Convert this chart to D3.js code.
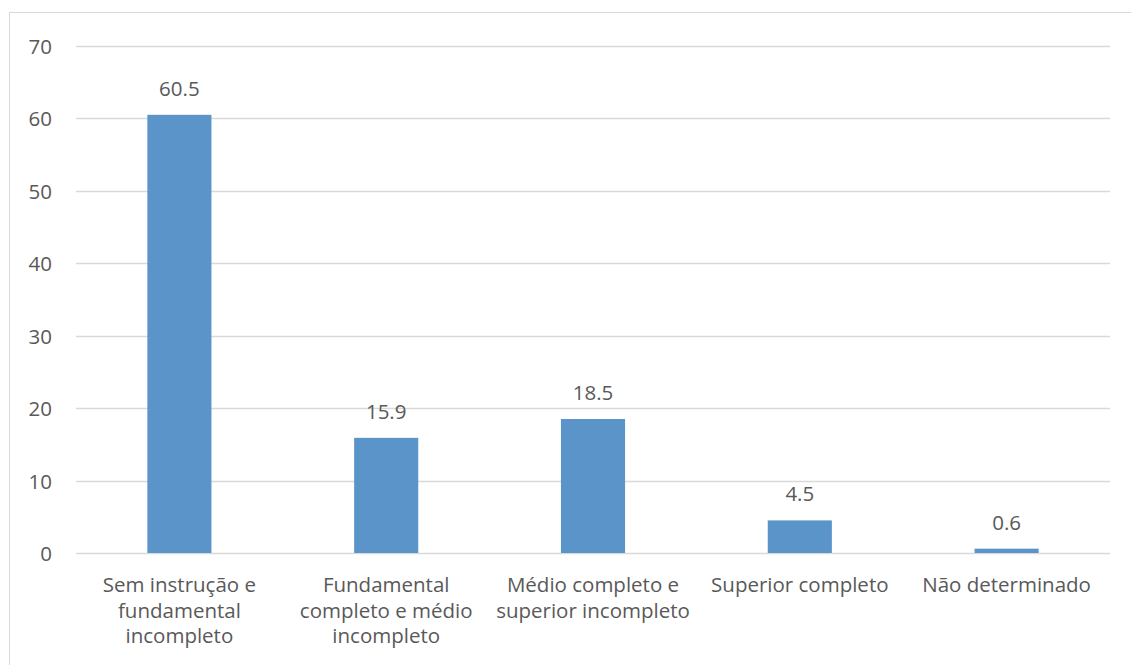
<!DOCTYPE html>
<html>
<head>
<meta charset="utf-8">
<script src="https://cdn.jsdelivr.net/npm/d3@7"></script>
<style>
  html, body { margin: 0; padding: 0; background: #fff; }
  svg text { font-family: "Open Sans", "Liberation Sans", sans-serif; fill: #595959; }
</style>
</head>
<body>
<svg id="chart" width="1131" height="665"></svg>
<script>
// Escolaridade (%)
const categories = [
  ["Sem instrução e", "fundamental", "incompleto"],
  ["Fundamental", "completo e médio", "incompleto"],
  ["Médio completo e", "superior incompleto"],
  ["Superior completo"],
  ["Não determinado"]
];
const values = [60.5, 15.9, 18.5, 4.5, 0.6];
const yTicks = [0, 10, 20, 30, 40, 50, 60, 70];

const FS = 20.5;
const svg = d3.select("#chart");
const W = 1131, H = 665;
const plot = { left: 76, right: 1110, top: 46, bottom: 553 };

// outer chart frame
svg.append("rect")
  .attr("x", 9.5).attr("y", 12.5)
  .attr("width", W + 10).attr("height", H + 10)
  .attr("fill", "none").attr("stroke", "#d9d9d9").attr("stroke-width", 1);

const x = d3.scaleBand()
  .domain(d3.range(values.length))
  .range([plot.left, plot.right])
  .paddingInner(0.69).paddingOuter(0.345);

const y = d3.scaleLinear().domain([0, 70]).range([plot.bottom, plot.top]);

// gridlines
svg.append("g")
  .selectAll("line").data(yTicks).join("line")
  .attr("x1", plot.left).attr("x2", plot.right)
  .attr("y1", d => Math.round(y(d)) + 0.5).attr("y2", d => Math.round(y(d)) + 0.5)
  .attr("stroke", "#d9d9d9").attr("stroke-width", 1.3);

// y axis labels
const yAxis = d3.axisLeft(y).tickValues(yTicks).tickSize(0).tickPadding(0).tickFormat(d3.format("d"));
const gy = svg.append("g").attr("transform", `translate(52,1)`).call(yAxis);
gy.select(".domain").remove();
gy.selectAll("text").attr("font-size", FS).attr("fill", "#595959")
  .style("font-family", '"Open Sans", "Liberation Sans", sans-serif');

// bars
svg.append("g")
  .selectAll("rect").data(values).join("rect")
  .attr("x", (d, i) => x(i))
  .attr("width", x.bandwidth())
  .attr("y", d => y(d))
  .attr("height", d => y(0) - y(d))
  .attr("fill", "#5B94C9");

// value labels
svg.append("g")
  .selectAll("text").data(values).join("text")
  .attr("x", (d, i) => x(i) + x.bandwidth() / 2)
  .attr("y", d => y(d) - 19)
  .attr("text-anchor", "middle")
  .attr("font-size", FS)
  .text(d => d3.format(".1f")(d));

// category labels
const xl = svg.append("g");
categories.forEach((lines, i) => {
  const t = xl.append("text")
    .attr("text-anchor", "middle")
    .attr("font-size", FS)
    .attr("x", x(i) + x.bandwidth() / 2)
    .attr("y", 592);
  lines.forEach((ln, j) => {
    t.append("tspan")
      .attr("x", x(i) + x.bandwidth() / 2)
      .attr("dy", j === 0 ? 0 : 25.5)
      .text(ln);
  });
});
</script>
</body>
</html>
